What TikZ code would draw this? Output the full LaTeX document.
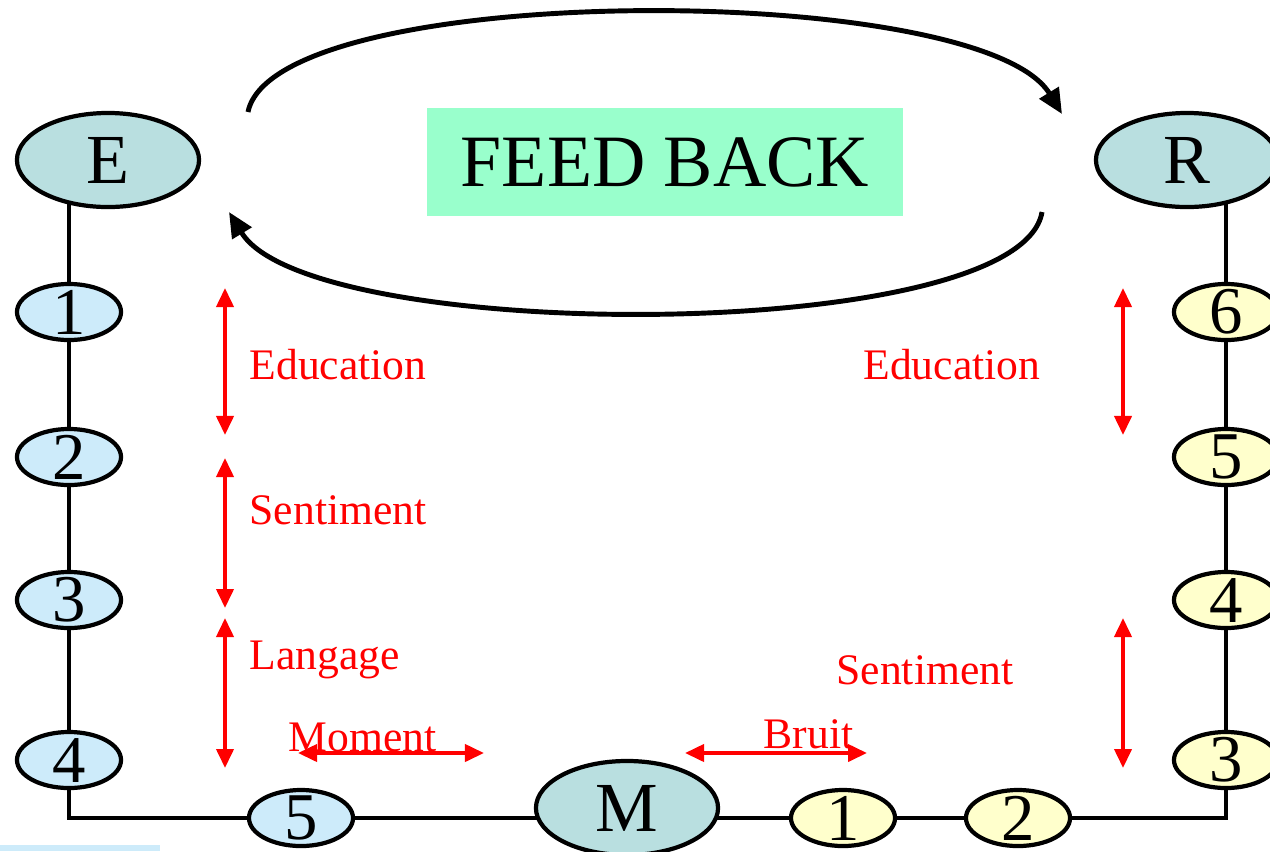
\documentclass[tikz,border=0pt]{standalone}
\usepackage{fontspec}
\setmainfont{Liberation Serif}
\usetikzlibrary{shapes.geometric,arrows.meta,backgrounds}
\definecolor{bigfill}{HTML}{B9DFE0}
\definecolor{bluefill}{HTML}{CDEBFA}
\definecolor{yellowfill}{HTML}{FFFFCC}
\definecolor{feedgreen}{HTML}{99FFCC}
\definecolor{labelred}{HTML}{FF0000}
\tikzset{
  big/.style={ellipse,draw,line width=1.2pt,fill=bigfill,minimum width=1.82cm,minimum height=0.94cm,inner sep=0pt,font=\fontsize{20}{24}\selectfont},
  small/.style={ellipse,draw,line width=1.2pt,minimum width=1.04cm,minimum height=0.56cm,inner xsep=0pt,inner ysep=-0.1cm,font=\fontsize{19}{23}\selectfont},
  emit/.style={small,fill=bluefill},
  recv/.style={small,fill=yellowfill},
  redlabel/.style={text=labelred,inner sep=0pt,font=\fontsize{12.4}{15}\selectfont},
  redarrow/.style={draw=labelred,line width=1.1pt,<->,>={Triangle[length=0.19cm,width=0.17cm]}},
  loop/.style={draw,line width=1.4pt,->,>={Triangle[length=0.25cm,width=0.22cm]}}
}
\begin{document}
\begin{tikzpicture}[x=0.01cm,y=-0.01cm]
\useasboundingbox (0,0) rectangle (1270,851);
\fill[bluefill] (0,845) rectangle (160,851);
% sender and receiver
\node[big] (E) at (108,160) {E};
\node[big] (R) at (1187,160) {R};
\node[big] (M) at (627,808) {M};
\node[fill=feedgreen,minimum width=4.75cm,minimum height=1.08cm,inner sep=0pt,font=\fontsize{21}{25}\selectfont] (fb) at (665,162) {FEED BACK};
% left chain
\node[emit] (l1) at (69,312) {1};
\node[emit] (l2) at (69,457) {2};
\node[emit] (l3) at (69,600) {3};
\node[emit] (l4) at (69,760) {4};
\node[emit] (l5) at (301,818) {5};
% right chain
\node[recv] (r1) at (843,818) {1};
\node[recv] (r2) at (1018,818) {2};
\node[recv] (r3) at (1226,760) {3};
\node[recv] (r4) at (1226,600) {4};
\node[recv] (r5) at (1226,457) {5};
\node[recv] (r6) at (1226,312) {6};
\begin{scope}[on background layer]
\draw[line width=1.1pt] (E.center -| l1) -- (l4) |- (r2) -| (r3) -- (R.center -| r3);
\end{scope}
% feed back loop
\coordinate (ta) at (248,112);
\coordinate (tb) at (1062,114);
\coordinate (ba) at (1042,212);
\coordinate (bb) at (229,212);
\draw[loop] (ta) .. controls (275,-20) and (980,-20) .. (tb);
\draw[loop] (ba) .. controls (1020,345) and (310,345) .. (bb);
% obstacles
\coordinate (a1) at (225,288); \coordinate (a2) at (225,435);
\coordinate (b1) at (225,458); \coordinate (b2) at (225,608);
\coordinate (c1) at (225,618); \coordinate (c2) at (225,768);
\coordinate (d1) at (1123,288); \coordinate (d2) at (1123,435);
\coordinate (f1) at (1123,618); \coordinate (f2) at (1123,768);
\coordinate (g1) at (298,753); \coordinate (g2) at (484,753);
\coordinate (h1) at (685,753); \coordinate (h2) at (867,753);
\draw[redarrow] (a1) -- (a2);
\draw[redarrow] (b1) -- (b2);
\draw[redarrow] (c1) -- (c2);
\draw[redarrow] (d1) -- (d2);
\draw[redarrow] (f1) -- (f2);
\draw[redarrow] (g1) -- (g2);
\draw[redarrow] (h1) -- (h2);
\node[redlabel,anchor=west] (edl) at (249,365) {Education};
\node[redlabel,anchor=west] (sel) at (249,510) {Sentiment};
\node[redlabel,anchor=west] (lal) at (249,660) {Langage};
\node[redlabel,anchor=east] (edr) at (1041,365) {Education};
\node[redlabel,anchor=east] (ser) at (1014,670) {Sentiment};
\node[redlabel,anchor=west] (mol) at (288,737) {Moment};
\node[redlabel,anchor=west] (brl) at (763,734) {Bruit};
\end{tikzpicture}
\end{document}
